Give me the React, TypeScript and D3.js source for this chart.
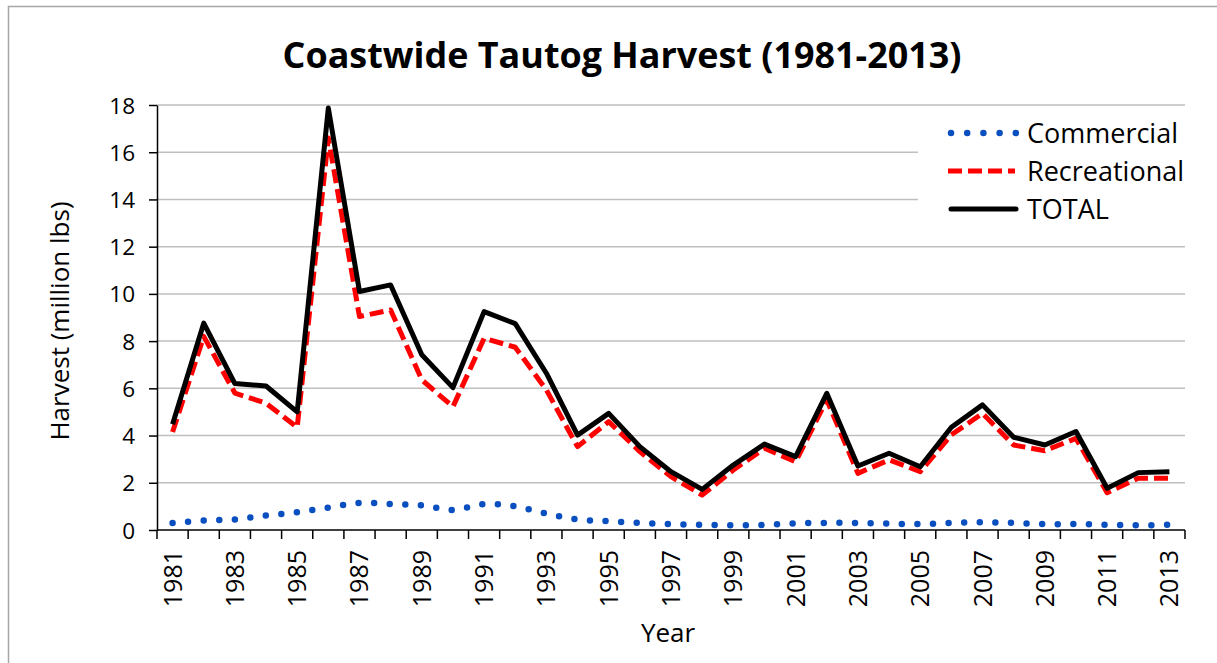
import React, { useEffect, useRef } from 'react';
import * as d3 from 'd3';

const years = d3.range(1981, 2014).map(String);

// million lbs
const commercial = [
  0.30, 0.40, 0.45, 0.62, 0.75, 0.95, 1.15, 1.10, 1.05, 0.85,
  1.10, 1.00, 0.70, 0.45, 0.37, 0.30, 0.25, 0.22, 0.20, 0.22,
  0.28, 0.30, 0.30, 0.27, 0.25, 0.30, 0.33, 0.30, 0.25, 0.25,
  0.22, 0.20, 0.22,
];
const recreational = [
  4.15, 8.20, 5.80, 5.37, 4.35, 16.60, 9.04, 9.32, 6.36, 5.22,
  8.12, 7.74, 5.93, 3.53, 4.59, 3.32, 2.26, 1.48, 2.54, 3.46,
  2.89, 5.51, 2.40, 2.97, 2.47, 4.03, 4.94, 3.60, 3.36, 3.88,
  1.58, 2.19, 2.19,
];
const total = [
  4.48, 8.76, 6.20, 6.10, 5.00, 17.87, 10.10, 10.38, 7.42, 6.03,
  9.25, 8.74, 6.64, 4.02, 4.94, 3.53, 2.47, 1.72, 2.75, 3.64,
  3.11, 5.79, 2.71, 3.25, 2.68, 4.35, 5.30, 3.93, 3.60, 4.17,
  1.77, 2.43, 2.47,
];
const yTicks = [0, 2, 4, 6, 8, 10, 12, 14, 16, 18];

const FONT = '"Open Sans", "DejaVu Sans", sans-serif';

const App: React.FC = () => {
  const svgRef = useRef<SVGSVGElement>(null);

  useEffect(() => {
    if (!svgRef.current) return;
    const svg = d3.select(svgRef.current);
    svg.selectAll('*').remove();

    const margin = { left: 157, right: 1185, top: 105, bottom: 530 };

    // outer chart frame
    svg.append('rect')
      .attr('x', 8.5).attr('y', 6.5)
      .attr('width', 1240).attr('height', 700)
      .attr('fill', '#fff')
      .attr('stroke', '#a6a6a6').attr('stroke-width', 1.5);

    const x = d3.scaleBand().domain(years).range([margin.left, margin.right]);
    const y = d3.scaleLinear().domain([0, 18]).range([margin.bottom, margin.top]);
    const cx = (i: number) => (x(years[i]) || 0) + x.bandwidth() / 2;

    // gridlines
    svg.append('g')
      .selectAll('line')
      .data(yTicks.filter(d => d > 0))
      .enter()
      .append('line')
      .attr('x1', margin.left).attr('x2', margin.right)
      .attr('y1', d => y(d)).attr('y2', d => y(d))
      .attr('stroke', '#bfbfbf').attr('stroke-width', 1.5);

    // y axis
    const yAxis = svg.append('g')
      .attr('transform', `translate(${margin.left},0)`)
      .call(d3.axisLeft(y).tickValues(yTicks).tickSize(8).tickPadding(14).tickSizeOuter(0));
    yAxis.select('.domain').attr('stroke', '#000').attr('stroke-width', 1.5);
    yAxis.selectAll('.tick line').attr('stroke', '#000').attr('stroke-width', 1.5);
    yAxis.selectAll('.tick text')
      .attr('font-family', FONT).attr('font-size', 22.5).attr('fill', '#000')
      .attr('dy', '0.36em');

    // x axis: ticks on band boundaries
    const xg = svg.append('g');
    xg.append('line')
      .attr('x1', margin.left).attr('x2', margin.right)
      .attr('y1', margin.bottom).attr('y2', margin.bottom)
      .attr('stroke', '#000').attr('stroke-width', 1.5);
    xg.selectAll('line.tk')
      .data(d3.range(years.length + 1))
      .enter()
      .append('line')
      .attr('class', 'tk')
      .attr('x1', i => margin.left + i * x.step())
      .attr('x2', i => margin.left + i * x.step())
      .attr('y1', margin.bottom).attr('y2', margin.bottom + 9)
      .attr('stroke', '#000').attr('stroke-width', 1.5);
    xg.selectAll('text')
      .data(years.filter((_, i) => i % 2 === 0))
      .enter()
      .append('text')
      .attr('transform', d => `translate(${(x(d) || 0) + x.bandwidth() / 2},550) rotate(-90)`)
      .attr('text-anchor', 'end')
      .attr('dy', '0.36em')
      .attr('font-family', FONT).attr('font-size', 25).attr('fill', '#000')
      .text(d => d);

    // series
    const line = d3.line<number>().x((_, i) => cx(i)).y(d => y(d));
    const smooth = d3.line<number>().x((_, i) => cx(i)).y(d => y(d)).curve(d3.curveCatmullRom.alpha(0.5));

    svg.append('path')
      .datum(commercial)
      .attr('d', smooth)
      .attr('fill', 'none')
      .attr('stroke', '#0a4fc0')
      .attr('stroke-width', 6.5)
      .attr('stroke-linecap', 'round')
      .attr('stroke-dasharray', '0 15.6');

    svg.append('path')
      .datum(recreational)
      .attr('d', line)
      .attr('fill', 'none')
      .attr('stroke', '#ff0000')
      .attr('stroke-width', 5)
      .attr('stroke-linejoin', 'round')
      .attr('stroke-dasharray', '14 6');

    svg.append('path')
      .datum(total)
      .attr('d', line)
      .attr('fill', 'none')
      .attr('stroke', '#000')
      .attr('stroke-width', 5)
      .attr('stroke-linejoin', 'round');

    // legend
    const lg = svg.append('g');
    lg.append('rect')
      .attr('x', 918).attr('y', 110).attr('width', 272).attr('height', 118)
      .attr('fill', '#fff');
    const items = [
      { name: 'Commercial', color: '#0a4fc0', dash: '0 16.2', width: 6.5, cap: 'round' },
      { name: 'Recreational', color: '#ff0000', dash: '14 6', width: 5, cap: 'butt' },
      { name: 'TOTAL', color: '#000', dash: null, width: 5, cap: 'round' },
    ];
    items.forEach((it, i) => {
      const ly = 133 + i * 38;
      const l = lg.append('line')
        .attr('x1', it.cap === 'butt' ? 948 : 951).attr('x2', it.cap === 'butt' ? 1015 : 1016)
        .attr('y1', ly).attr('y2', ly)
        .attr('stroke', it.color).attr('stroke-width', it.width)
        .attr('stroke-linecap', it.cap);
      if (it.dash) l.attr('stroke-dasharray', it.dash);
      lg.append('text')
        .attr('x', 1027).attr('y', ly).attr('dy', '0.36em')
        .attr('font-family', FONT).attr('font-size', 27).attr('fill', '#000')
        .text(it.name);
    });

    // titles
    svg.append('text')
      .attr('x', 622).attr('y', 68)
      .attr('text-anchor', 'middle')
      .attr('font-family', FONT).attr('font-weight', 700).attr('font-size', 36)
      .attr('textLength', 679).attr('lengthAdjust', 'spacingAndGlyphs')
      .attr('fill', '#000')
      .text('Coastwide Tautog Harvest (1981-2013)');

    svg.append('text')
      .attr('x', 668).attr('y', 642)
      .attr('text-anchor', 'middle')
      .attr('font-family', FONT).attr('font-size', 26).attr('fill', '#000')
      .text('Year');

    svg.append('text')
      .attr('transform', 'translate(60,321) rotate(-90)')
      .attr('text-anchor', 'middle')
      .attr('dy', '0.36em')
      .attr('font-family', FONT).attr('font-size', 26).attr('fill', '#000')
      .text('Harvest (million lbs)');
  }, []);

  return (
    <div style={{ position: 'absolute', left: 0, top: 0, width: 1217, height: 663, background: '#fff' }}>
      <svg ref={svgRef} width={1217} height={663} style={{ display: 'block' }} />
    </div>
  );
};

export default App;
